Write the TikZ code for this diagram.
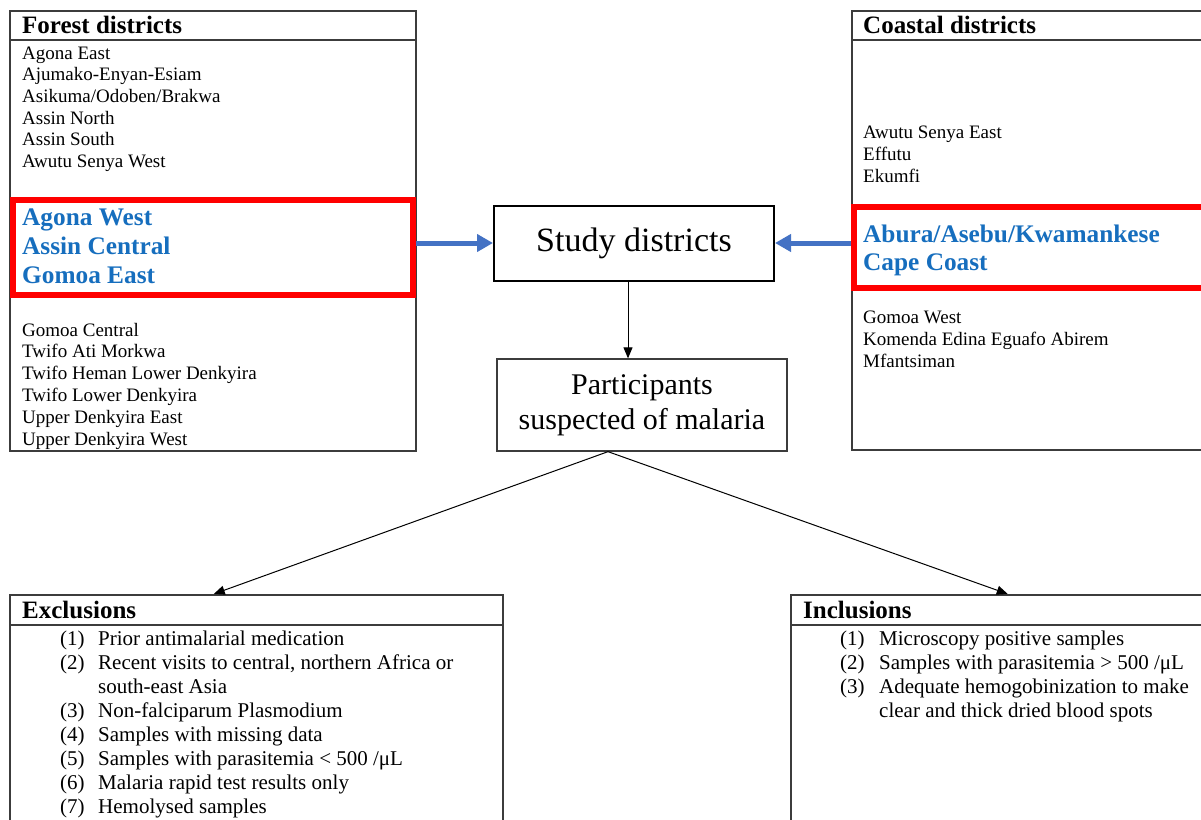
\documentclass[tikz,border=0pt]{standalone}
\usepackage{fontspec}
\setmainfont{Liberation Serif}
\usetikzlibrary{arrows.meta}
\definecolor{boxgray}{RGB}{60,60,60}
\definecolor{redC}{RGB}{255,0,0}
\definecolor{blueT}{RGB}{22,110,190}
\definecolor{arrowblue}{RGB}{68,114,196}
\tikzset{
  box/.style={draw=boxgray, line width=1.5pt, inner sep=0pt, fill=none},
  li/.style={anchor=base west, inner sep=0pt, font=\fontsize{19}{22}\selectfont},
  hd/.style={anchor=base west, inner sep=0pt, font=\bfseries\fontsize{25}{28}\selectfont},
  bl/.style={anchor=base west, inner sep=0pt, text=blueT, font=\bfseries\fontsize{25.3}{28}\selectfont},
  itm/.style={anchor=base west, inner sep=0pt, font=\fontsize{21}{24}\selectfont},
  redbox/.style={draw=redC, line width=6pt, inner sep=0pt},
  barrow/.style={-{Triangle[length=16pt,width=17pt]}, draw=arrowblue, line width=5pt},
  karrow/.style={-{Triangle[length=11pt,width=9pt]}, draw=black, line width=1pt},
}
\begin{document}
\begin{tikzpicture}[x=1pt,y=-1pt]
\useasboundingbox (0,0) rectangle (1201,819);
\fill[white] (0,0) rectangle (1201,819);
\clip (0,0) rectangle (1201,819);

% ---------- Forest districts ----------
\node[box, anchor=north west, minimum width=406pt, minimum height=440pt] (forest) at (9,10) {};
\draw[boxgray, line width=1.5pt] ([yshift=-30pt]forest.north west) -- ([yshift=-30pt]forest.north east);
\node[hd] (fhead) at (22,33) {Forest districts};
\foreach \t [count=\i] in {Agona East, Ajumako-Enyan-Esiam, Asikuma/Odoben/Brakwa, Assin North, Assin South, Awutu Senya West}
  \node[li] (fa\i) at (22,{59+(\i-1)*21.7}) {\t};
\node[redbox, minimum width=400pt, minimum height=95pt] (fred) at (212.5,247.5) {};
\foreach \t [count=\i] in {Agona West, Assin Central, Gomoa East}
  \node[bl] (fb\i) at (22,{225+(\i-1)*29}) {\t};
\foreach \t [count=\i] in {Gomoa Central, Twifo Ati Morkwa, Twifo Heman Lower Denkyira, Twifo Lower Denkyira, Upper Denkyira East, Upper Denkyira West}
  \node[li] (fc\i) at (22,{336+(\i-1)*21.8}) {\t};

% ---------- Coastal districts ----------
\node[box, anchor=north west, minimum width=420pt, minimum height=439pt] (coast) at (851,10) {};
\draw[boxgray, line width=1.5pt] ([yshift=-30pt]coast.north west) -- ([yshift=-30pt]coast.north east);
\node[hd] (chead) at (863,33) {Coastal districts};
\foreach \t [count=\i] in {Awutu Senya East, Effutu, Ekumfi}
  \node[li] (ca\i) at (863,{138+(\i-1)*22}) {\t};
\node[redbox, minimum width=400pt, minimum height=81.5pt] (cred) at (1054,247.25) {};
\foreach \t [count=\i] in {Abura/Asebu/Kwamankese, Cape Coast}
  \node[bl] (cb\i) at (863,{242+(\i-1)*28}) {\t};
\foreach \t [count=\i] in {Gomoa West, Komenda Edina Eguafo Abirem, Mfantsiman}
  \node[li] (cc\i) at (863,{323+(\i-1)*22}) {\t};

% ---------- Centre ----------
\node[draw=black, line width=2pt, minimum width=280pt, minimum height=75pt, font=\fontsize{34}{38}\selectfont] (study) at (634,243) {Study districts};
\node[draw=boxgray, line width=1.3pt, minimum width=290pt, minimum height=92pt, align=center, font=\fontsize{30}{35}\selectfont] (part) at (642,405) {Participants\\suspected of malaria};

\draw[barrow] (fred.east |- study.west) -- (study.west);
\draw[barrow] (cred.west |- study.east) -- (study.east);
\draw[karrow] ([xshift=-6pt]study.south) -- ([xshift=-6pt]study.south |- part.north);

% ---------- Exclusions ----------
\node[box, anchor=north west, minimum width=493pt, minimum height=260pt] (excl) at (9,594) {};
\draw[boxgray, line width=1.5pt] ([yshift=-31pt]excl.north west) -- ([yshift=-31pt]excl.north east);
\node[hd] (ehead) at (22,618) {Exclusions};
\node[itm] (en1) at (60,645) {(1)}; \node[itm] (et1) at (98,645) {Prior antimalarial medication};
\node[itm] (en2) at (60,669) {(2)}; \node[itm] (et2) at (98,669) {Recent visits to central, northern Africa or};
\node[itm] (et2b) at (98,693) {south-east Asia};
\node[itm] (en3) at (60,717) {(3)}; \node[itm] (et3) at (98,717) {Non-falciparum Plasmodium};
\node[itm] (en4) at (60,741) {(4)}; \node[itm] (et4) at (98,741) {Samples with missing data};
\node[itm] (en5) at (60,765) {(5)}; \node[itm] (et5) at (98,765) {Samples with parasitemia < 500 /μL};
\node[itm] (en6) at (60,789) {(6)}; \node[itm] (et6) at (98,789) {Malaria rapid test results only};
\node[itm] (en7) at (60,813) {(7)}; \node[itm] (et7) at (98,813) {Hemolysed samples};

% ---------- Inclusions ----------
\node[box, anchor=north west, minimum width=500pt, minimum height=260pt] (incl) at (790,594) {};
\draw[boxgray, line width=1.5pt] ([yshift=-31pt]incl.north west) -- ([yshift=-31pt]incl.north east);
\node[hd] (ihead) at (803,618) {Inclusions};
\node[itm] (in1) at (840,645) {(1)}; \node[itm] (it1) at (879,645) {Microscopy positive samples};
\node[itm] (in2) at (840,669) {(2)}; \node[itm] (it2) at (879,669) {Samples with parasitemia > 500 /μL};
\node[itm] (in3) at (840,693) {(3)}; \node[itm] (it3) at (879,693) {Adequate hemogobinization to make};
\node[itm] (it3b) at (879,717) {clear and thick dried blood spots};

% ---------- Diagonal connectors ----------
\draw[karrow] ([xshift=-34pt]part.south) -- ([xshift=-42.5pt]excl.north);
\draw[karrow] ([xshift=-34pt]part.south) -- ([xshift=-33pt]incl.north);
\end{tikzpicture}
\end{document}
